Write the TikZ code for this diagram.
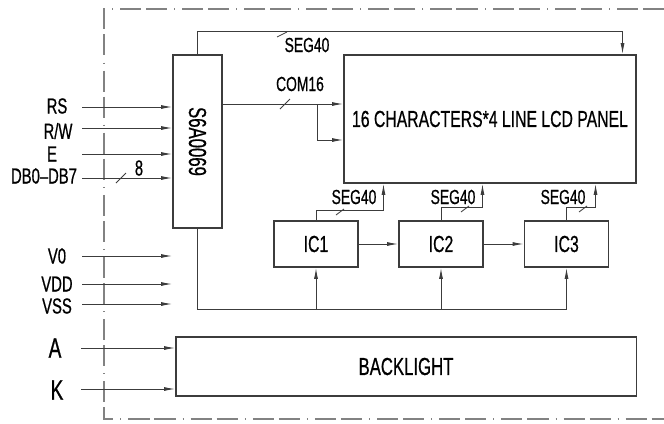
\documentclass[tikz,border=0pt]{standalone}
\usepackage{fontspec}
\setmainfont{Liberation Sans}[FakeStretch=0.68, FakeBold=0.6]
\usetikzlibrary{arrows.meta}

\definecolor{linegray}{RGB}{60,60,60}
\definecolor{framegray}{RGB}{130,130,130}

\newcommand{\busslash}[1]{\draw[slash] #1 ++(-5,5) -- ++(10,-10);}

\begin{document}
\begin{tikzpicture}[
x=0.025cm, y=-0.025cm,
box/.style={draw=linegray, line width=0.8pt, inner sep=0pt},
arrow/.style={-{Latex[length=8pt,width=2.8pt]}, draw=linegray, line width=0.7pt},
slash/.style={draw=linegray, line width=0.6pt},
frame/.style={draw=framegray, line width=0.8pt, dash pattern=on 15pt off 3.5pt on 15pt off 5pt on 0.7pt off 5pt},
lbl/.style={inner sep=0pt, font=\fontsize{15.5}{17}\selectfont},
small/.style={inner sep=0pt, font=\fontsize{14.5}{16}\selectfont}
]
\useasboundingbox (0,0) rectangle (664,423);

% module outline
\draw[frame] (664,9) -- (104,9) -- (104,419) -- (664,419);

% blocks
\node[box, minimum width=34.9pt, minimum height=123pt] (drv) at (197.5,141.5) {};
\node[rotate=-90, inner sep=0pt, font=\fontsize{17.5}{19}\selectfont] (drvname) at (drv) {S6A0069};
\node[box, minimum width=207.7pt, minimum height=91pt, font=\fontsize{16.5}{18}\selectfont] (lcd) at (490,119) {16 CHARACTERS*4 LINE LCD PANEL};
\node[box, minimum width=59.8pt, minimum height=32.7pt, font=\fontsize{16.5}{18}\selectfont] (ic1) at (316,244) {IC1};
\node[box, minimum width=59.8pt, minimum height=32.7pt, font=\fontsize{16.5}{18}\selectfont] (ic2) at (441,244) {IC2};
\node[box, minimum width=59.8pt, minimum height=32.7pt, font=\fontsize{16.5}{18}\selectfont] (ic3) at (566.5,244) {IC3};
\node[box, minimum width=327.2pt, minimum height=42pt, font=\fontsize{17.5}{19}\selectfont] (bl) at (406,366.5) {BACKLIGHT};

% interface pins
\node[lbl] (rs) at (57,106) {RS};
\node[lbl] (rw) at (58,131) {R/W};
\node[lbl] (e) at (52,154) {E};
\node[lbl] (db) at (44,176) {DB0--DB7};
\node[lbl] (vo) at (57,256) {V0};
\node[lbl] (vdd) at (57,284) {VDD};
\node[lbl] (vss) at (57,306) {VSS};
\node[inner sep=0pt, font=\fontsize{20}{22}\selectfont] (pa) at (55,348) {A};
\node[inner sep=0pt, font=\fontsize{20}{22}\selectfont] (pk) at (57,390) {K};

\coordinate (inrs) at (82,107);
\coordinate (inrw) at (82,128);
\coordinate (ine) at (82,154);
\coordinate (indb) at (82,178);
\coordinate (invo) at (82,256);
\coordinate (invdd) at (82,284);
\coordinate (invss) at (82,304);
\coordinate (ina) at (81,348);
\coordinate (ink) at (81,389);

\draw[arrow] (inrs) -- (inrs -| drv.west);
\draw[arrow] (inrw) -- (inrw -| drv.west);
\draw[arrow] (ine) -- (ine -| drv.west);
\draw[arrow] (indb) -- (indb -| drv.west);
\draw[arrow] (invo) -- (invo -| drv.west);
\draw[arrow] (invdd) -- (invdd -| drv.west);
\draw[arrow] (invss) -- (invss -| drv.west);
\draw[arrow] (ina) -- (ina -| bl.west);
\draw[arrow] (ink) -- (ink -| bl.west);
\busslash{(121,178)}
\node[lbl] (dbw) at (139,168) {8};

% segment bus on top
\draw[arrow] (drv.north) -- ++(0,-23) -| ([xshift=-10pt]lcd.north east);
\draw[slash] (277,37) -- (287,32);
\node[small] (segtop) at (307,45) {SEG40};

% common bus
\coordinate (comout) at (222,104);
\coordinate (combr) at (317,104);
\coordinate (comlow) at (317,140);
\draw[arrow] (comout) -- (comout -| lcd.west);
\draw[arrow] (combr) -- (comlow) -- (comlow -| lcd.west);
\busslash{(285,104)}
\node[small] (comlbl) at (300,84) {COM16};

% column drivers
\draw[arrow] (ic1) -- (ic2);
\draw[arrow] (ic2) -- (ic3);
\coordinate (busy) at (0,309);
\draw[arrow] (drv.south) -- ++(0,81) -| (ic3.south);
\draw[arrow] (ic1.south |- busy) -- (ic1.south);
\draw[arrow] (ic2.south |- busy) -- (ic2.south);

\draw[arrow] (ic1.north) -- ++(0,-10) -| ([xshift=28.5pt]lcd.south west);
\draw[arrow] (ic2.north) -- ++(0,-13) -| ([xshift=98.9pt]lcd.south west);
\draw[arrow] (ic3.north) -- ++(0,-13) -| ([xshift=179.3pt]lcd.south west);
\draw[slash] (336,215) -- (344,209);
\draw[slash] (461,212) -- (469,206);
\draw[slash] (579,212) -- (587,206);
\node[small] (seg1) at (354,197) {SEG40};
\node[small] (seg2) at (453,197) {SEG40};
\node[small] (seg3) at (563,197) {SEG40};

\end{tikzpicture}
\end{document}
